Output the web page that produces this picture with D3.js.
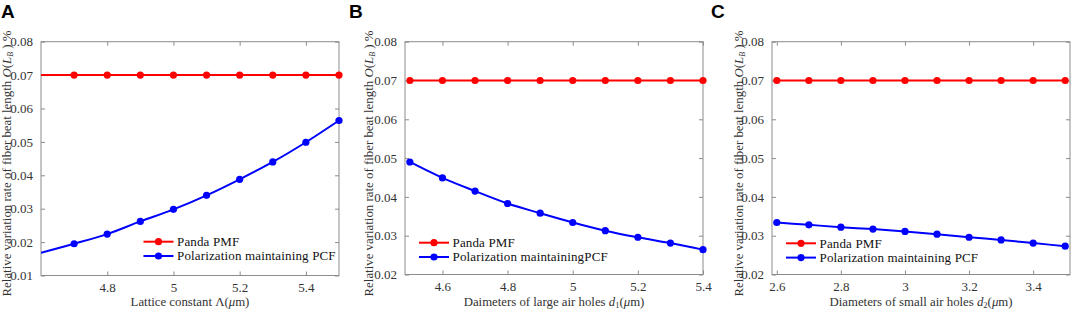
<!DOCTYPE html>
<html><head><meta charset="utf-8">
<script src="https://cdn.jsdelivr.net/npm/d3@7"></script>
<style>
html,body{margin:0;padding:0;background:#fff;}
</style></head>
<body><svg id="c" width="1072" height="310" font-family="Liberation Serif, DejaVu Serif, serif"></svg>
<script>
// ---- data ----
const xA = [4.6,4.7,4.8,4.9,5.0,5.1,5.2,5.3,5.4,5.5];
const pandaA = [0.07,0.07,0.07,0.07,0.07,0.07,0.07,0.07,0.07,0.07];
const pcfA = [0.0168,0.0195,0.0224,0.0262,0.0298,0.0340,0.0388,0.0440,0.0499,0.0564];
const markerStartA = 1; // first point has no marker (at axis edge)
const xTicksA = [4.8,5.0,5.2,5.4];
const yTicksA = [0.01,0.02,0.03,0.04,0.05,0.06,0.07,0.08];

const xB = [4.5,4.6,4.7,4.8,4.9,5.0,5.1,5.2,5.3,5.4];
const pandaB = [0.07,0.07,0.07,0.07,0.07,0.07,0.07,0.07,0.07,0.07];
const pcfB = [0.0490,0.0449,0.0415,0.0383,0.0358,0.0334,0.0313,0.0296,0.0281,0.0264];
const xTicksB = [4.6,4.8,5.0,5.2,5.4];
const yTicksB = [0.02,0.03,0.04,0.05,0.06,0.07,0.08];

const xC = [2.6,2.7,2.8,2.9,3.0,3.1,3.2,3.3,3.4,3.5];
const pandaC = [0.07,0.07,0.07,0.07,0.07,0.07,0.07,0.07,0.07,0.07];
const pcfC = [0.0334,0.0328,0.0322,0.0317,0.0311,0.0304,0.0296,0.0289,0.0281,0.0273];
const xTicksC = [2.6,2.8,3.0,3.2,3.4];
const yTicksC = [0.02,0.03,0.04,0.05,0.06,0.07,0.08];

const seriesNames = ["Panda PMF","Polarization maintaining PCF"];
const seriesNamesB = ["Panda PMF","Polarization maintainingPCF"];

const SERIF = "'Liberation Serif','DejaVu Serif',serif";
const svg = d3.select("#c");
const RED = "#ff0000", BLUE = "#0000ff", AX = "#8c8c8c", TXT = "#333333";

function fmtX(v){ return (Math.round(v*10)/10).toString(); }
function fit(sel, target){
  const fs = parseFloat(sel.style("font-size"));
  const w = sel.node().getComputedTextLength();
  if (w > 0) sel.style("font-size", (fs*target/w).toFixed(2)+"px");
}

function panel(o){
  const g = svg.append("g");
  const x = d3.scaleLinear().domain(o.xd).range([o.l, o.r]);
  const y = d3.scaleLinear().domain(o.yd).range([o.b, o.t]);
  g.append("rect").attr("x",o.l).attr("y",o.t).attr("width",o.r-o.l).attr("height",o.b-o.t)
    .attr("fill","none").attr("stroke",AX).attr("stroke-width",1);
  const ax = [
    {a:d3.axisBottom(x).tickValues(o.xt).tickFormat(fmtX).tickSize(-4).tickPadding(7), tr:`translate(0,${o.b})`},
    {a:d3.axisTop(x).tickValues(o.xt).tickFormat("").tickSize(-4), tr:`translate(0,${o.t})`},
    {a:d3.axisLeft(y).tickValues(o.yt).tickFormat(d3.format(".2f")).tickSize(-4).tickPadding(8), tr:`translate(${o.l},0)`},
    {a:d3.axisRight(y).tickValues(o.yt).tickFormat("").tickSize(-4), tr:`translate(${o.r},0)`}
  ];
  ax.forEach(d=>{
    const s = g.append("g").attr("transform",d.tr).call(d.a)
      .attr("font-family",SERIF).attr("font-size",13);
    s.select(".domain").remove();
    s.selectAll(".tick line").attr("stroke",AX);
    s.selectAll(".tick text").attr("fill",TXT);
  });
  const clip = "clip"+o.id;
  svg.append("clipPath").attr("id",clip).append("rect")
    .attr("x",o.l).attr("y",o.t-6).attr("width",o.r-o.l+6).attr("height",o.b-o.t+12);
  const line = d3.line().x(d=>x(d[0])).y(d=>y(d[1])).curve(d3.curveMonotoneX);
  const sets = [{v:o.p, c:RED},{v:o.q, c:BLUE}];
  const pg = g.append("g").attr("clip-path",`url(#${clip})`);
  sets.forEach(s=>{
    const pts = o.xs.map((xv,i)=>[xv,s.v[i]]);
    pg.append("path").attr("d",line(pts)).attr("fill","none").attr("stroke",s.c).attr("stroke-width",2);
    pg.selectAll(null).data(pts.slice(o.ms)).enter().append("circle")
      .attr("cx",d=>x(d[0])).attr("cy",d=>y(d[1])).attr("r",3.6).attr("fill",s.c);
  });
  // legend
  [RED,BLUE].forEach((c,i)=>{
    const yy = o.lg[1] + i*14.3;
    g.append("line").attr("x1",o.lg[0]).attr("x2",o.lg[0]+30).attr("y1",yy).attr("y2",yy)
      .attr("stroke",c).attr("stroke-width",2);
    g.append("circle").attr("cx",o.lg[0]+15).attr("cy",yy).attr("r",3.6).attr("fill",c);
    g.append("text").attr("x",o.lg[0]+33.5).attr("y",yy+4.3).attr("fill","#111")
      .attr("font-family",SERIF).style("font-size","13px").style("letter-spacing","0.15px").text(o.names[i]);
  });
  // x label
  const xl = g.append("text").attr("x",(o.l+o.r)/2 + o.xlOff).attr("y",306).attr("text-anchor","middle")
    .attr("fill",TXT).attr("font-family",SERIF).style("font-size","12.8px");
  xl.append("tspan").text(o.xlab[0]);
  if(o.xlab[1]){ xl.append("tspan").style("font-style","italic").text(o.xlab[1]);
    xl.append("tspan").attr("dy",2).style("font-size","8.5px").text(o.xlab[2]);
    xl.append("tspan").attr("dy",-2).text("("); }
  xl.append("tspan").style("font-style","italic").text("μ");
  xl.append("tspan").text("m)");
  // y label
  const yl = g.append("text").attr("transform",`translate(${o.yx},${o.yc}) rotate(-90)`)
    .attr("text-anchor","middle").attr("fill",TXT).attr("font-family",SERIF).style("font-size","13px");
  yl.append("tspan").text("Relative variation rate of fiber beat length ");
  yl.append("tspan").style("font-style","italic").text("O");
  yl.append("tspan").text("(");
  yl.append("tspan").style("font-style","italic").text("L");
  yl.append("tspan").attr("dy",2).style("font-style","italic").style("font-size","8px").text("B");
  yl.append("tspan").attr("dy",-2).text(" ) %");
  fit(yl, 266);
  // panel letter
  svg.append("text").attr("x",o.letterX).attr("y",18).attr("fill","#000")
    .attr("font-family","'Liberation Sans',Arial,sans-serif").style("font-weight","bold")
    .style("font-size","19px").text(o.letter);
}

panel({id:"A", l:41, r:339, t:41.7, b:275.5, xd:[4.6,5.5], yd:[0.01,0.08], xt:xTicksA, yt:yTicksA,
  xs:xA, p:pandaA, q:pcfA, ms:markerStartA, names:seriesNames, lg:[143.5,241.7],
  xlab:["Lattice constant Λ("], xlOff:0, yx:11, yc:163.5, letter:"A", letterX:1});
panel({id:"B", l:405, r:703, t:41.7, b:274.5, xd:[4.485,5.4], yd:[0.02,0.08], xt:xTicksB, yt:yTicksB,
  xs:xB, p:pandaB, q:pcfB, ms:0, names:seriesNamesB, lg:[419,242.7],
  xlab:["Daimeters of large air holes ","d","1"], xlOff:0, yx:373, yc:163.5, letter:"B", letterX:349});
panel({id:"C", l:772, r:1070, t:41.7, b:274.5, xd:[2.585,3.515], yd:[0.02,0.08], xt:xTicksC, yt:yTicksC,
  xs:xC, p:pandaC, q:pcfC, ms:0, names:seriesNames, lg:[786,243.3],
  xlab:["Diameters of small air holes ","d","2"], xlOff:0, yx:743, yc:163.5, letter:"C", letterX:711});
</script></body></html>
